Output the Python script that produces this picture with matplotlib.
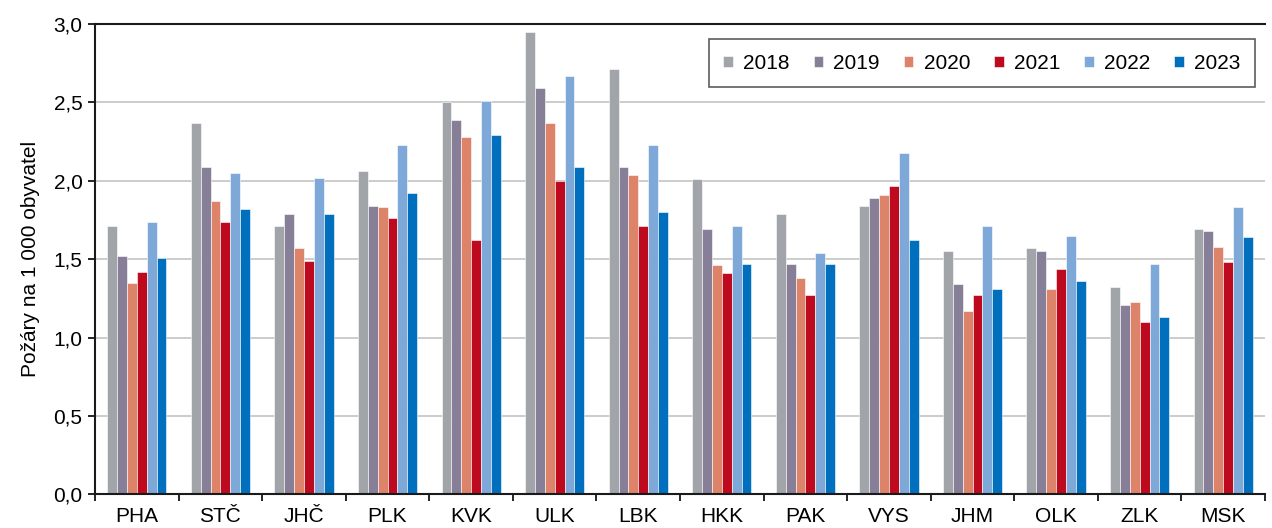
import matplotlib.pyplot as plt
import numpy as np

plt.rcParams["font.family"] = ["Liberation Sans", "DejaVu Sans"]

regions = ["PHA", "STČ", "JHČ", "PLK", "KVK", "ULK", "LBK",
           "HKK", "PAK", "VYS", "JHM", "OLK", "ZLK", "MSK"]
years = ["2018", "2019", "2020", "2021", "2022", "2023"]

v2018 = [1.71, 2.37, 1.71, 2.06, 2.50, 2.95, 2.71, 2.01, 1.79, 1.84, 1.55, 1.57, 1.32, 1.69]
v2019 = [1.52, 2.09, 1.79, 1.84, 2.39, 2.59, 2.09, 1.69, 1.47, 1.89, 1.34, 1.55, 1.21, 1.68]
v2020 = [1.35, 1.87, 1.57, 1.83, 2.28, 2.37, 2.04, 1.46, 1.38, 1.91, 1.17, 1.31, 1.23, 1.58]
v2021 = [1.42, 1.74, 1.49, 1.76, 1.62, 2.00, 1.71, 1.41, 1.27, 1.97, 1.27, 1.44, 1.10, 1.48]
v2022 = [1.74, 2.05, 2.02, 2.23, 2.51, 2.67, 2.23, 1.71, 1.54, 2.18, 1.71, 1.65, 1.47, 1.83]
v2023 = [1.51, 1.82, 1.79, 1.92, 2.29, 2.09, 1.80, 1.47, 1.47, 1.62, 1.31, 1.36, 1.13, 1.64]

series = [v2018, v2019, v2020, v2021, v2022, v2023]
colors = ["#A1A4A8", "#877E97", "#DC836A", "#BE0A1E", "#7EA8D8", "#0070BE"]

fig = plt.figure(figsize=(12.72, 5.28), dpi=100)
ax = fig.add_axes([0.0747, 0.0636, 0.9198, 0.8909])

x = np.arange(len(regions))
w = 0.118
for i, (vals, c, yr) in enumerate(zip(series, colors, years)):
    ax.bar(x + (i - 2.5) * w, vals, width=w, color=c, label=yr,
           edgecolor="white", linewidth=0.4, zorder=3)

ax.set_xlim(-0.5, len(regions) - 0.5)
ax.set_ylim(0, 3.0)
ax.set_yticks(np.arange(0, 3.01, 0.5))
ax.set_yticklabels([f"{t:.1f}".replace(".", ",") for t in np.arange(0, 3.01, 0.5)])
ax.yaxis.grid(True, color="#C8C8C8", linewidth=1.3, zorder=0)
ax.set_axisbelow(True)

# category labels centred, tick marks on group boundaries
ax.set_xticks(x)
ax.set_xticklabels(regions)
ax.tick_params(axis="x", length=0, pad=9, labelsize=15)
ax.set_xticks(np.arange(-0.5, len(regions), 1), minor=True)
ax.tick_params(axis="x", which="minor", length=5, width=1.2, color="black")
ax.tick_params(axis="y", length=5, width=1.2, labelsize=15, pad=4)

for s in ["left", "bottom", "top"]:
    ax.spines[s].set_linewidth(1.5)
    ax.spines[s].set_color("#1a1a1a")
    ax.spines[s].set_zorder(5)
ax.spines["right"].set_visible(False)

ax.set_ylabel("Požáry na 1 000 obyvatel", fontsize=15, labelpad=10)

leg = ax.legend(ncol=6, loc="upper right", bbox_to_anchor=(0.9915, 0.968),
                fontsize=15, frameon=True, fancybox=False, edgecolor="#333333",
                handlelength=0.45, handleheight=0.45, handletextpad=0.5,
                columnspacing=1.15, borderpad=0.7, borderaxespad=0)
leg.get_frame().set_linewidth(1.2)

fig.savefig("out.png", dpi=100)
